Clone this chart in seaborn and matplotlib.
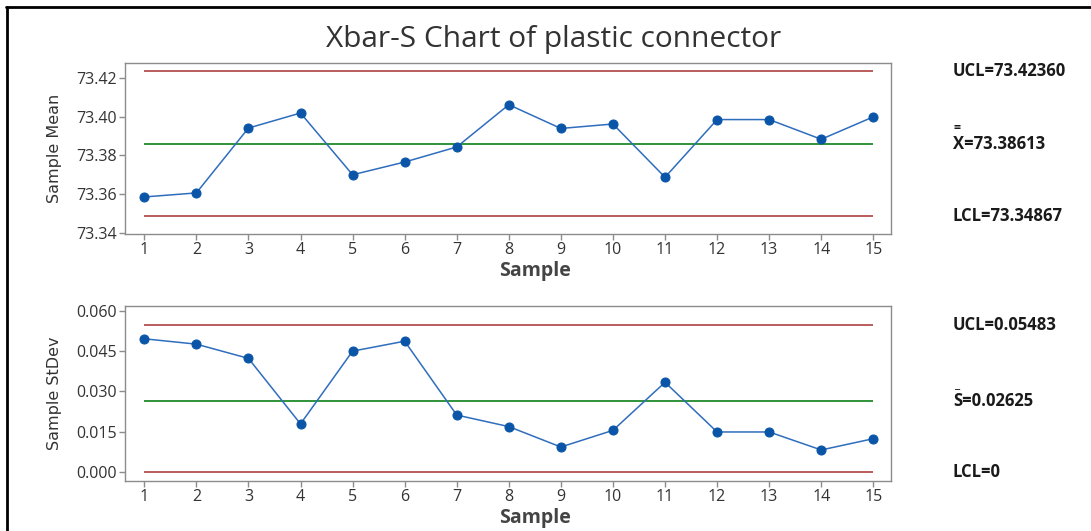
import matplotlib
matplotlib.use("Agg")
import matplotlib.pyplot as plt
import matplotlib.transforms as mtransforms
import seaborn as sns
import pandas as pd
from matplotlib.lines import Line2D

# Subgroup statistics for the plastic connector
samples = list(range(1, 16))
sample_means = [73.3585, 73.3606, 73.3942, 73.4020, 73.3700, 73.3766, 73.3844, 73.4063,
                73.3940, 73.3963, 73.3687, 73.3986, 73.3986, 73.3884, 73.4000]
sample_stdevs = [0.0496, 0.0476, 0.0423, 0.0179, 0.0450, 0.0487, 0.0212, 0.0169,
                 0.0093, 0.0155, 0.0334, 0.0149, 0.0149, 0.0082, 0.0124]

# Control limits
xbar_limits = {"UCL": 73.42360, "CL": 73.38613, "LCL": 73.34867}
s_limits = {"UCL": 0.05483, "CL": 0.02625, "LCL": 0.0}

xbar_ticks = [73.34, 73.36, 73.38, 73.40, 73.42]
s_ticks = [0.000, 0.015, 0.030, 0.045, 0.060]

sns.set_style("white")
plt.rcParams["font.family"] = ["Open Sans", "DejaVu Sans"]

RED = "#b4504e"
GREEN = "#1f8a2a"
BLUE = "#2f6dbd"
MARK = "#0a55a8"
SPINE = "#8c8c8c"
TXT = "#333333"

fig = plt.figure(figsize=(10.91, 5.31), dpi=100)
ax1 = fig.add_axes([0.1146, 0.5593, 0.7021, 0.322])
ax2 = fig.add_axes([0.1146, 0.0942, 0.7021, 0.330])

df = pd.DataFrame({"Sample": samples, "Mean": sample_means, "StDev": sample_stdevs})


def draw_panel(ax, col, limits, ticks, ylim, ylabel, fmt):
    for key in ("UCL", "LCL"):
        ax.hlines(limits[key], samples[0], samples[-1], color=RED, lw=1.3, zorder=1)
    ax.hlines(limits["CL"], samples[0], samples[-1], color=GREEN, lw=1.3, zorder=1)
    sns.lineplot(data=df, x="Sample", y=col, ax=ax, color=BLUE, lw=1.1,
                 marker="o", markersize=6.5, markerfacecolor=MARK,
                 markeredgecolor=MARK, zorder=3)
    ax.set_xlim(0.63, 15.34)
    ax.set_ylim(*ylim)
    ax.set_xticks(samples)
    ax.set_xticklabels([str(s) for s in samples])
    ax.set_yticks(ticks)
    ax.set_yticklabels([fmt.format(t) for t in ticks])
    for sp in ax.spines.values():
        sp.set_color(SPINE)
        sp.set_linewidth(1.0)
    ax.tick_params(axis="both", direction="out", length=4, width=1, color=SPINE,
                   labelsize=11.5, labelcolor=TXT, pad=2, left=True, bottom=True)
    ax.set_xlabel("Sample", fontsize=14, fontweight="bold", color="#444444")
    ax.xaxis.set_label_coords(0.535, -0.155)
    ax.set_ylabel(ylabel, fontsize=11.5, color=TXT, labelpad=10,
                  family=["Liberation Sans Narrow", "DejaVu Sans"])


draw_panel(ax1, "Mean", xbar_limits, xbar_ticks, (73.3393, 73.4279), "Sample Mean", "{:.2f}")
draw_panel(ax2, "StDev", s_limits, s_ticks, (-0.00335, 0.0619), "Sample StDev", "{:.3f}")

# Limit labels at the right of each panel
lab_x = 0.8735
bold = dict(fontsize=12, fontweight="bold", color="#1a1a1a", va="center", ha="left")
t1 = mtransforms.blended_transform_factory(fig.transFigure, ax1.transData)
ax1.text(lab_x, xbar_limits["UCL"], "UCL=73.42360", transform=t1, **bold)
ax1.text(lab_x, xbar_limits["CL"], "X=73.38613", transform=t1, **bold)
ax1.text(lab_x, xbar_limits["LCL"], "LCL=73.34867", transform=t1, **bold)
ax1.text(lab_x + 0.0005, xbar_limits["CL"] + 0.0078, "=", transform=t1,
         fontsize=9, fontweight="bold", color="#1a1a1a", va="center", ha="left")

t2 = mtransforms.blended_transform_factory(fig.transFigure, ax2.transData)
ax2.text(lab_x, s_limits["UCL"], "UCL=0.05483", transform=t2, **bold)
ax2.text(lab_x, s_limits["CL"], "S=0.02625", transform=t2, **bold)
ax2.text(lab_x, s_limits["LCL"], "LCL=0", transform=t2, **bold)
ax2.text(lab_x + 0.0008, s_limits["CL"] + 0.0062, "_", transform=t2,
         fontsize=9, fontweight="bold", color="#1a1a1a", va="center", ha="left")

fig.suptitle("Xbar-S Chart of plastic connector", x=0.507, y=0.952,
             fontsize=21.5, color="#333333")

# Outer frame lines along the top and left edge
fig.add_artist(Line2D([0.0055, 1.0], [0.987, 0.987], transform=fig.transFigure,
                      color="black", lw=2))
fig.add_artist(Line2D([0.0064, 0.0064], [0.0, 0.987], transform=fig.transFigure,
                      color="black", lw=2))

fig.savefig("out.png", dpi=100, facecolor="white")
